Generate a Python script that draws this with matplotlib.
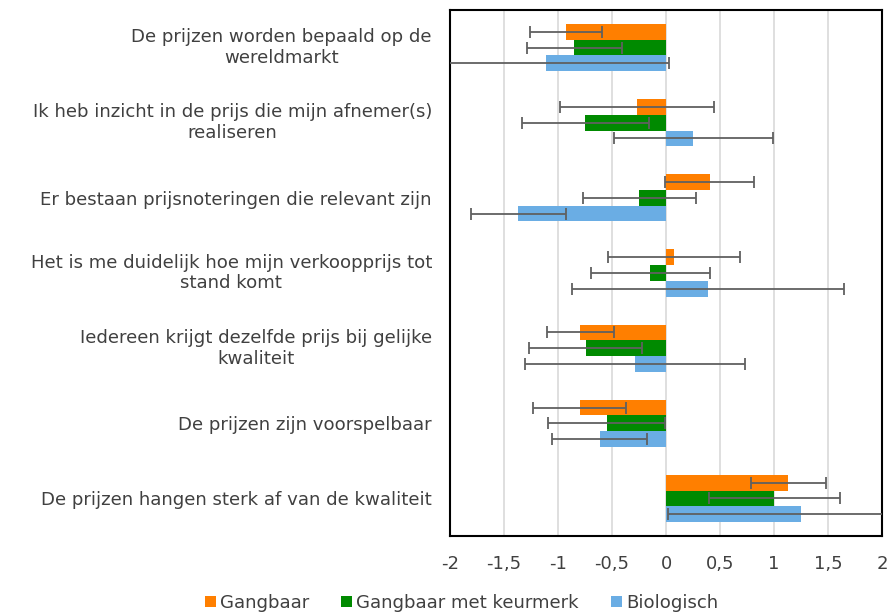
import matplotlib
matplotlib.use("Agg")
import matplotlib.pyplot as plt
import numpy as np
from matplotlib.patches import Patch

categories = [
    "De prijzen worden bepaald op de\nwereldmarkt",
    "Ik heb inzicht in de prijs die mijn afnemer(s)\nrealiseren",
    "Er bestaan prijsnoteringen die relevant zijn",
    "Het is me duidelijk hoe mijn verkoopprijs tot\nstand komt",
    "Iedereen krijgt dezelfde prijs bij gelijke\nkwaliteit",
    "De prijzen zijn voorspelbaar",
    "De prijzen hangen sterk af van de kwaliteit",
]
series_names = ["Gangbaar", "Gangbaar met keurmerk", "Biologisch"]
gangbaar = [-0.925, -0.268, 0.404, 0.074, -0.796, -0.798, 1.134]
gangbaar_err = [0.33, 0.71, 0.41, 0.61, 0.31, 0.43, 0.35]
keurmerk = [-0.848, -0.746, -0.246, -0.145, -0.745, -0.548, 1.004]
keurmerk_err = [0.44, 0.59, 0.52, 0.55, 0.52, 0.54, 0.61]
biologisch = [-1.115, 0.254, -1.366, 0.385, -0.288, -0.615, 1.254]
biologisch_err = [1.14, 0.74, 0.44, 1.26, 1.02, 0.44, 1.24]
xticks = [-2, -1.5, -1, -0.5, 0, 0.5, 1, 1.5, 2]
xticklabels = ["-2", "-1,5", "-1", "-0,5", "0", "0,5", "1", "1,5", "2"]

colors = ["#FF7F00", "#008A00", "#6AADE4"]
text_color = "#404040"
plt.rcParams['font.family'] = ['DejaVu Sans']

fig = plt.figure(figsize=(8.9, 6.13), dpi=100)
ax = fig.add_axes([450/890, 1-536/613, 432/890, 526/613])

n = len(categories)
ypos = np.arange(n)
h = 0.209
data = [gangbaar, keurmerk, biologisch]
errs = [gangbaar_err, keurmerk_err, biologisch_err]
for i, (vals, er, c) in enumerate(zip(data, errs, colors)):
    y = ypos + (i - 1) * h
    ax.barh(y, vals, height=h, color=c, zorder=2, label=series_names[i])
    ax.errorbar(vals, y, xerr=er, fmt='none', ecolor='#606060', elinewidth=1.3,
                capsize=4, capthick=1.3, zorder=3, clip_on=True)

ax.set_xlim(-2, 2)
ax.set_ylim(n - 0.5, -0.5)
ax.set_xticks(xticks)
ax.set_xticklabels(xticklabels, fontsize=13, color=text_color)
ax.set_yticks(ypos)
ax.set_yticklabels(categories, fontsize=13.1, color=text_color, multialignment='center')
for lbl in ax.get_yticklabels():
    if "\n" in lbl.get_text():
        lbl.set_va('center')
ax.tick_params(axis='both', length=0)
ax.tick_params(axis='y', pad=13)
ax.tick_params(axis='x', pad=14)
ax.grid(axis='x', color='#D9D9D9', linewidth=1.2, zorder=0)
ax.set_axisbelow(True)
for s in ax.spines.values():
    s.set_color('black')
    s.set_linewidth(1.5)

handles = [Patch(facecolor=c, edgecolor='none') for c in colors]
fig.legend(handles, series_names, loc='center', bbox_to_anchor=(461.5/890, 1-603/613),
           ncol=3, frameon=False, fontsize=13.1, handlelength=0.6, handleheight=0.6,
           handletextpad=0.22, columnspacing=1.76, labelcolor=text_color)

fig.savefig("out.png", dpi=100)
